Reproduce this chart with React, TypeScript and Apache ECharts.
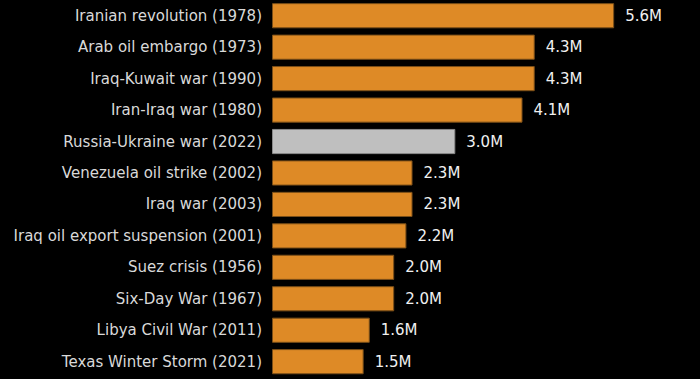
import React, { useEffect, useRef } from "react";
import * as echarts from "echarts";

const categories = [
  "Iranian revolution (1978)",
  "Arab oil embargo (1973)",
  "Iraq-Kuwait war (1990)",
  "Iran-Iraq war (1980)",
  "Russia-Ukraine war (2022)",
  "Venezuela oil strike (2002)",
  "Iraq war (2003)",
  "Iraq oil export suspension (2001)",
  "Suez crisis (1956)",
  "Six-Day War (1967)",
  "Libya Civil War (2011)",
  "Texas Winter Storm (2021)",
];
const values = [5.6, 4.3, 4.3, 4.1, 3.0, 2.3, 2.3, 2.2, 2.0, 2.0, 1.6, 1.5];
const highlighted = "Russia-Ukraine war (2022)";

export default function App() {
  const ref = useRef<HTMLDivElement>(null);
  useEffect(() => {
    if (!ref.current) return;
    const chart = echarts.init(ref.current, undefined, { renderer: "svg" });
    chart.setOption({
      animation: false,
      backgroundColor: "#000000",
      grid: { left: 272, top: 0, width: 427.7, height: 377.4, containLabel: false },
      xAxis: {
        type: "value",
        min: 0,
        max: 7,
        show: false,
      },
      yAxis: {
        type: "category",
        data: categories,
        inverse: true,
        axisLine: { show: false },
        axisTick: { show: false },
        splitLine: { show: false },
        axisLabel: {
          color: "#d9d9d9",
          fontSize: 15,
          fontFamily: "DejaVu Sans",
          margin: 10,
        },
      },
      series: [
        {
          type: "bar",
          barCategoryGap: "20%",
          data: values.map((v, i) => ({
            value: v,
            itemStyle: {
              color: categories[i] === highlighted ? "#bfbfbf" : "#de8a26",
              borderColor: categories[i] === highlighted ? "#8a8a8a" : "#7a4e18",
              borderWidth: 1,
            },
          })),
          label: {
            show: true,
            position: "right",
            distance: 11,
            color: "#f0f0f0",
            fontSize: 15,
            fontFamily: "DejaVu Sans",
            formatter: (p: any) => p.value.toFixed(1) + "M",
          },
        },
      ],
    });
    return () => chart.dispose();
  }, []);
  return <div ref={ref} style={{ width: 700, height: 379, position: "fixed", left: 0, top: 0 }} />;
}
